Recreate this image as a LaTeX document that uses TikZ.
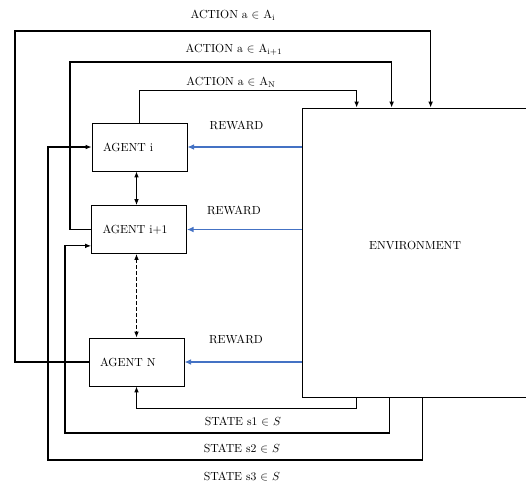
\documentclass[tikz,border=0pt]{standalone}
\usepackage{tikz}
\usetikzlibrary{arrows.meta,positioning,calc}
\definecolor{rewblue}{RGB}{68,114,196}
\tikzset{
  agent/.style  = {draw, line width=0.6pt, minimum height=14.4mm, text width=21.9mm,
                   align=left, inner xsep=3.3mm, font=\normalsize},
  envbox/.style = {draw, line width=0.6pt, minimum width=67.8mm, minimum height=86.7mm},
  e/.style      = {-{Latex[length=1.8mm,width=1.4mm]}, line width=0.9pt},
  dbl/.style    = {{Latex[length=1.8mm,width=1.4mm]}-{Latex[length=1.8mm,width=1.4mm]},
                   line width=0.9pt},
  rew/.style    = {-{Latex[length=2mm,width=1.7mm]}, line width=1.6pt, rewblue},
  lbl/.style    = {font=\normalsize, inner sep=1pt, text=black}
}

\begin{document}
\begin{tikzpicture}[x=0.3mm,y=-0.3mm]
  \useasboundingbox (0,0) rectangle (526,485);
  % agents and environment
  \node[agent] (ai)  at (139.5,147) {AGENT i};
  \node[agent] (ai1) at (139,229.5) {AGENT i+1};
  \node[agent] (an)  at (136.5,362) {AGENT N};
  \node[envbox] (env) at (415,252.5) {};
  \node[lbl] (envtxt) at (415,245) {ENVIRONMENT};
  \draw[dbl] (ai.south -| an.north) -- (ai1.north -| an.north);
  \draw[dbl, dash pattern=on 1.2mm off 0.6mm] (ai1.south -| an.north) -- (an.north);
  % rewards
  \draw[rew] (env.west |- ai.east) -- node[lbl, pos=0.57, above=4.4mm] {REWARD} (ai.east);
  \draw[rew] (env.west |- ai1.east) -- node[lbl, pos=0.59, above=3.7mm] {REWARD} (ai1.east);
  \draw[rew] (env.west |- an.east) -- node[lbl, pos=0.56, above=4.7mm] {REWARD} (an.east);
  % actions
  \draw[e] (ai.north) -- ++(0,-32) -| ($(env.north west)+(55,0)$);
  \draw[e] (ai1.west) -| (70,62) -| ($(env.north west)+(90,0)$);
  \draw[e] (an.west) -| (15,31) -| ($(env.north west)+(129,0)$);
  \node[lbl] (acti)  at (233,15) {ACTION a $\in$ A\textsubscript{i}};
  \node[lbl] (acti1) at (234,50) {ACTION a $\in$ A\textsubscript{i+1}};
  \node[lbl] (actN)  at (231,82) {ACTION a $\in$ A\textsubscript{N}};
  % states
  \draw[e] ($(env.south west)+(55,0)$) -- ++(0,11) -| (an.south);
  \draw[e] ($(env.south west)+(88,0)$) |- (65,433) |- ($(ai1.south west)+(0,-8)$);
  \draw[e] ($(env.south west)+(121,0)$) |- (48,460) |- (ai.west);
  \node[lbl] (st1) at (243,422) {STATE s1 $\in$ $S$};
  \node[lbl] (st2) at (242,449) {STATE s2 $\in$ $S$};
  \node[lbl] (st3) at (242,477) {STATE s3 $\in$ $S$};
\end{tikzpicture}
\end{document}
